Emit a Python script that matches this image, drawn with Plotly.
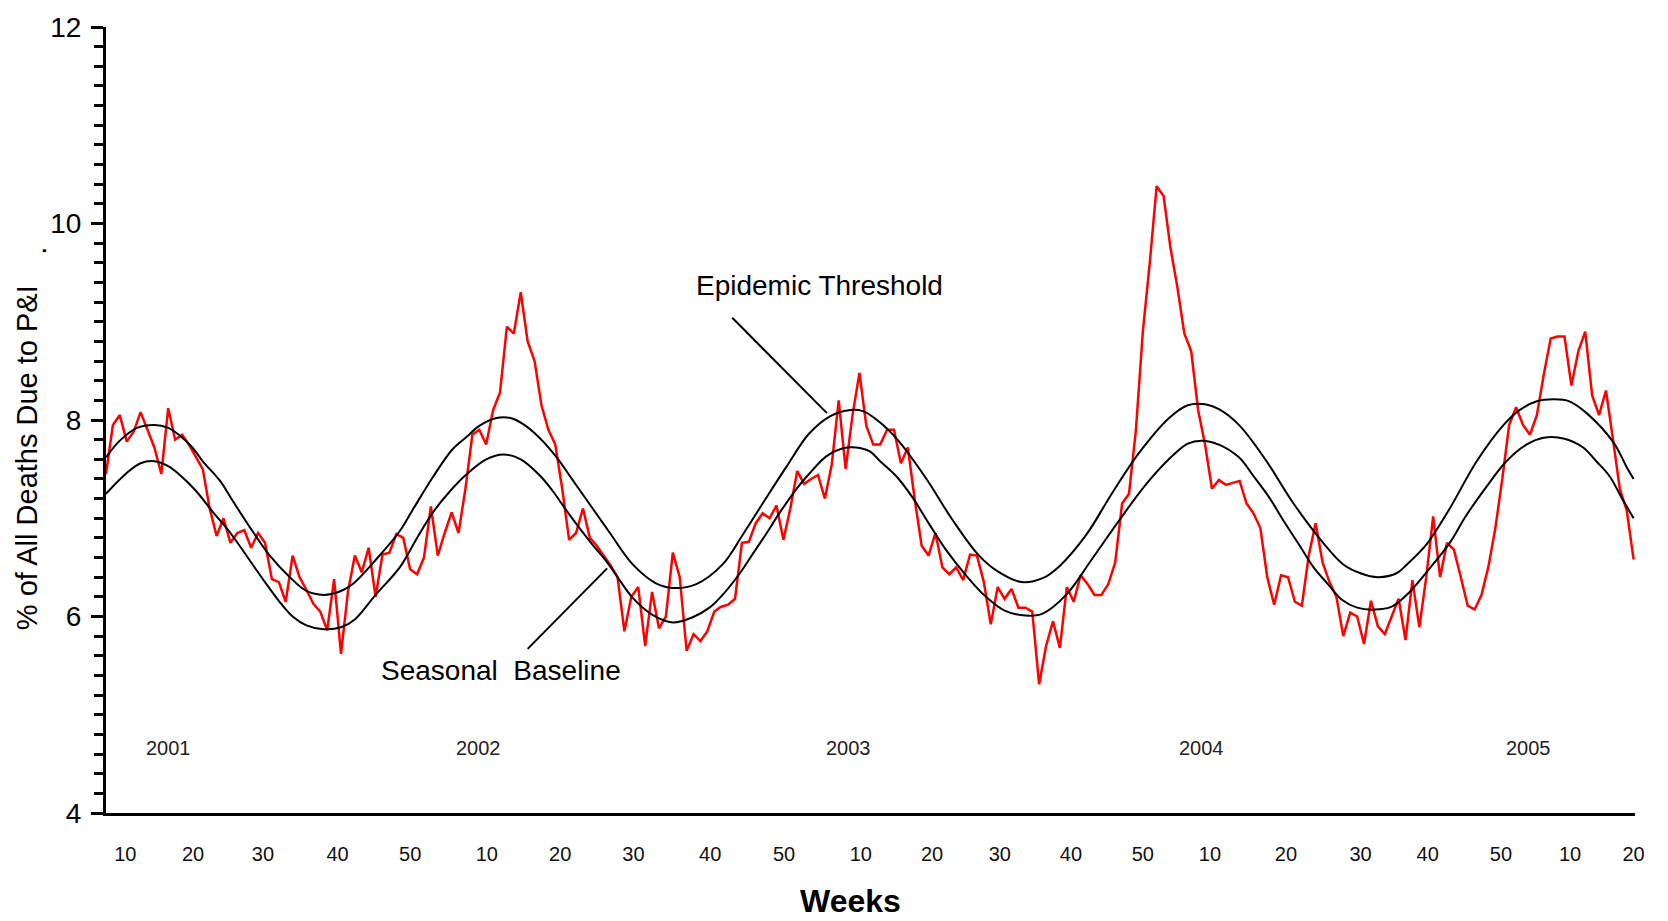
import plotly.graph_objects as go

# ---------------- data ----------------
# week index: 1 = week 1 of 2001, 53 = week 1 of 2002, ...
weeks = list(range(7, 229))
pi_pct = [
    # 2001 (t 7-52)
    7.45, 7.95, 8.05, 7.78, 7.88, 8.08, 7.90, 7.72, 7.45, 8.12,
    7.80, 7.85, 7.75, 7.63, 7.50, 7.10, 6.82, 7.00, 6.75, 6.85,
    6.88, 6.70, 6.85, 6.75, 6.38, 6.35, 6.15, 6.62, 6.40, 6.27,
    6.13, 6.05, 5.86, 6.38, 5.62, 6.25, 6.62, 6.45, 6.70, 6.20,
    6.63, 6.65, 6.84, 6.80, 6.48, 6.43,
    # 2002 (t 53-104)
    6.60, 7.12, 6.62, 6.85, 7.06, 6.85, 7.30, 7.85, 7.90, 7.75,
    8.10, 8.28, 8.95, 8.88, 9.30, 8.80, 8.60, 8.15, 7.90, 7.75,
    7.30, 6.78, 6.85, 7.10, 6.80, 6.72, 6.62, 6.52, 6.40, 5.85,
    6.20, 6.30, 5.70, 6.25, 5.88, 6.00, 6.65, 6.40, 5.65, 5.82,
    5.75, 5.85, 6.05, 6.10, 6.12, 6.18, 6.75, 6.76, 6.95, 7.05,
    7.00, 7.13,
    # 2003 (t 105-156)
    6.78, 7.10, 7.48, 7.35, 7.40, 7.44, 7.20, 7.55, 8.20, 7.50,
    8.05, 8.48, 7.94, 7.75, 7.75, 7.90, 7.90, 7.56, 7.72, 7.19,
    6.72, 6.62, 6.85, 6.50, 6.43, 6.50, 6.37, 6.63, 6.62, 6.35,
    5.92, 6.30, 6.18, 6.28, 6.09, 6.09, 6.05, 5.31, 5.70, 5.95,
    5.68, 6.30, 6.15, 6.42, 6.33, 6.22, 6.22, 6.33, 6.55, 7.15,
    7.25, 7.90,
    # 2004 (t 157-208)
    8.90, 9.60, 10.38, 10.28, 9.75, 9.35, 8.88, 8.70, 8.10, 7.75,
    7.30, 7.39, 7.34, 7.36, 7.38, 7.15, 7.05, 6.90, 6.40, 6.12,
    6.42, 6.40, 6.15, 6.11, 6.62, 6.95, 6.55, 6.35, 6.20, 5.80,
    6.04, 6.00, 5.72, 6.16, 5.90, 5.82, 6.00, 6.18, 5.76, 6.37,
    5.89, 6.40, 7.02, 6.40, 6.75, 6.68, 6.40, 6.11, 6.07, 6.22,
    6.51, 6.90,
    # 2005 (t 209-228)
    7.40, 7.95, 8.13, 7.95, 7.85, 8.05, 8.46, 8.83, 8.85, 8.85,
    8.35, 8.70, 8.90, 8.25, 8.05, 8.30, 7.81, 7.30, 7.08, 6.58,
]

base_weeks = [7, 10, 12, 14, 16, 18, 20, 22.5, 25, 28, 30, 32, 34, 36, 38.5, 41, 43, 46,
              49.5, 52, 54.3, 56.7, 59.2, 62, 64.5, 67, 69.7, 71.6, 73.6, 75.5, 77.4,
              79.4, 81.3, 83.2, 86, 89, 91.8, 94.3, 96.2, 98.6, 100.5, 102.5, 104.4,
              106.9, 108.7, 111.2, 113.5, 115.5, 117.5, 119, 121.3, 123.6, 126.1, 128.5,
              131.4, 134.3, 137, 140, 142.5, 145.9, 149.6, 153.5, 157.4, 161.2, 163.5,
              165.5, 168, 170.9, 173, 175.2, 177.4, 179.7, 181.7, 183.9, 185.8, 188,
              190.5, 193, 195.6, 198.5, 201.4, 203.8, 206.7, 209.6, 212.5, 215, 218,
              220.7, 222.6, 224.5, 226.5, 228]
base_vals = [7.25, 7.46, 7.56, 7.58, 7.53, 7.42, 7.28, 7.06, 6.85, 6.55, 6.35, 6.16, 6.00,
             5.91, 5.87, 5.89, 5.97, 6.22, 6.50, 6.80, 7.06, 7.27, 7.45, 7.60, 7.65, 7.60,
             7.44, 7.28, 7.08, 6.90, 6.73, 6.56, 6.37, 6.19, 6.02, 5.94, 5.99, 6.09, 6.22,
             6.43, 6.63, 6.84, 7.05, 7.30, 7.45, 7.63, 7.71, 7.72, 7.68, 7.58, 7.43, 7.22,
             6.94, 6.68, 6.42, 6.20, 6.06, 6.01, 6.03, 6.22, 6.58, 6.97, 7.34, 7.63, 7.76,
             7.79, 7.75, 7.62, 7.43, 7.22, 6.97, 6.72, 6.50, 6.32, 6.17, 6.09, 6.07, 6.10,
             6.25, 6.49, 6.75, 7.03, 7.32, 7.58, 7.75, 7.82, 7.81, 7.72, 7.58, 7.43, 7.18,
             7.00]

thr_weeks = [7, 9, 11.5, 14, 16, 17.7, 19.5, 21, 23.5, 25.4, 27.8, 30.7, 33.6, 36, 38.5,
             41, 42.7, 46.2, 49.5, 51.4, 54.3, 57.1, 59.2, 61, 63.5, 65.5, 67.3, 69.7,
             72.2, 74.5, 76.9, 79.8, 83.2, 86.5, 89, 92.4, 96.2, 99.1, 102, 105.4, 108.7,
             111.8, 114.5, 116.5, 118.9, 121.5, 125.6, 129.4, 133.3, 136, 139.5, 142.5,
             144.9, 148.8, 152.5, 156.4, 160.8, 163.5, 166, 168, 170.9, 174.8, 178.8,
             183.2, 186, 188.5, 191, 193.7, 195.2, 198.1, 201.4, 205.3, 209.2, 211.5,
             214, 216.5, 218.7, 221.2, 225.1, 227, 228]
thr_vals = [7.62, 7.79, 7.92, 7.95, 7.92, 7.84, 7.72, 7.58, 7.38, 7.17, 6.91, 6.62, 6.40,
            6.26, 6.22, 6.26, 6.33, 6.59, 6.87, 7.09, 7.42, 7.70, 7.83, 7.94, 8.02, 8.02,
            7.96, 7.82, 7.62, 7.39, 7.15, 6.86, 6.53, 6.34, 6.29, 6.33, 6.53, 6.83, 7.15,
            7.52, 7.86, 8.04, 8.10, 8.09, 7.98, 7.80, 7.41, 6.99, 6.62, 6.46, 6.35, 6.39,
            6.51, 6.83, 7.25, 7.66, 8.02, 8.15, 8.16, 8.11, 7.95, 7.59, 7.15, 6.74, 6.53,
            6.44, 6.40, 6.44, 6.53, 6.74, 7.10, 7.58, 7.95, 8.10, 8.19, 8.21, 8.19, 8.07,
            7.77, 7.52, 7.40]

# x tick labels as printed on the original (hand-placed positions)
tick_pos = [9.8, 19.6, 29.7, 40.5, 51, 62.1, 72.7, 83.3, 94.4, 105.1, 116.2,
            126.5, 136.3, 146.6, 157, 166.7, 177.7, 188.5, 198.2, 208.8, 218.8, 228]
tick_text = ["10", "20", "30", "40", "50"] * 4 + ["10", "20"]

years = ["2001", "2002", "2003", "2004", "2005"]
year_pos = [16, 60.9, 114.4, 165.5, 212.8]

# ---------------- figure ----------------
FONT = "Liberation Sans, Arial, sans-serif"

fig = go.Figure()
fig.add_trace(go.Scatter(x=weeks, y=pi_pct, mode="lines",
                         line=dict(color="#ff0000", width=2.5), hoverinfo="skip"))
fig.add_trace(go.Scatter(x=thr_weeks, y=thr_vals, mode="lines",
                         line=dict(color="#000000", width=2, shape="spline"), hoverinfo="skip"))
fig.add_trace(go.Scatter(x=base_weeks, y=base_vals, mode="lines",
                         line=dict(color="#000000", width=2, shape="spline"), hoverinfo="skip"))

annotations = []
for txt, xp in zip(years, year_pos):
    annotations.append(dict(x=xp, y=4.66, xref="x", yref="y", text=txt, showarrow=False,
                            font=dict(family=FONT, size=20, color="#222222")))
annotations += [
    dict(x=110.2, y=9.37, xref="x", yref="y", text="Epidemic Threshold", showarrow=False,
         font=dict(family=FONT, size=28, color="#000000")),
    dict(x=64.2, y=5.45, xref="x", yref="y", text="Seasonal  Baseline", showarrow=False,
         font=dict(family=FONT, size=28, color="#000000")),
    dict(x=0.4866, y=-0.112, xref="paper", yref="paper", text="<b>Weeks</b>", showarrow=False,
         yanchor="middle", font=dict(family=FONT, size=32, color="#000000")),
    dict(x=-0.0517, y=0.4526, xref="paper", yref="paper", text="% of All Deaths Due to P&I",
         textangle=-90, showarrow=False, xanchor="center", yanchor="middle",
         font=dict(family=FONT, size=29, color="#000000")),
    dict(x=-0.046, y=0.715, xref="paper", yref="paper", text=".",
         textangle=-90, showarrow=False, xanchor="center", yanchor="middle",
         font=dict(family=FONT, size=29, color="#000000")),
]

shapes = [
    dict(type="line", xref="x", yref="y", x0=97.6, y0=9.04, x1=111.3, y1=8.07,
         line=dict(color="#000000", width=2)),
    dict(type="line", xref="x", yref="y", x0=68, y0=5.67, x1=79.5, y1=6.49,
         line=dict(color="#000000", width=2)),
]

fig.update_layout(
    width=1668, height=921,
    margin=dict(l=106, r=33, t=22, b=108),
    paper_bgcolor="white", plot_bgcolor="white",
    showlegend=False,
    annotations=annotations,
    shapes=shapes,
    font=dict(family=FONT, color="#000000"),
    xaxis=dict(range=[7, 228.2], showgrid=False, zeroline=False,
               showline=True, linecolor="#000000", linewidth=3,
               tickmode="array", tickvals=tick_pos, ticktext=tick_text,
               ticks="outside", ticklen=21, tickcolor="rgba(0,0,0,0)",
               tickfont=dict(family=FONT, size=20, color="#111111")),
    yaxis=dict(range=[4, 12], showgrid=False, zeroline=False,
               showline=True, linecolor="#000000", linewidth=3,
               tickmode="array", tickvals=[4, 6, 8, 10, 12], ticktext=["4", "6", "8", "10", "12"],
               ticks="outside", ticklen=12, tickwidth=3, tickcolor="#000000",
               minor=dict(dtick=0.2, ticks="outside", ticklen=9, tickwidth=3, tickcolor="#000000",
                          showgrid=False),
               ticklabelstandoff=4,
               tickfont=dict(family=FONT, size=28, color="#000000")),
)

fig.write_html("out.html")
